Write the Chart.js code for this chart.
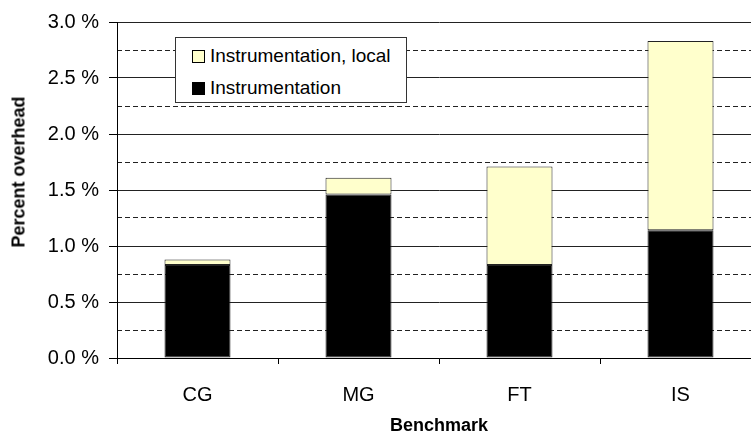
<!DOCTYPE html>
<html>
<head>
<meta charset="utf-8">
<script src="https://cdn.jsdelivr.net/npm/chart.js@4.4.1/dist/chart.umd.min.js"></script>
<style>
  html, body { margin: 0; padding: 0; background: #fff; overflow: hidden; }
  #wrap { position: relative; width: 751px; height: 439px; overflow: hidden; }
  #legend {
    position: absolute; left: 175px; top: 37px; width: 230px; height: 64px;
    border: 1px solid #333; background: #fff;
    font-family: "Liberation Sans", Arial, sans-serif; font-size: 19px; color: #000;
  }
  .item { position: absolute; left: 16px; height: 22px; line-height: 22px; white-space: nowrap; }
  .swatch { display: inline-block; width: 11px; height: 11px; border: 1px solid #000; margin-right: 5px; vertical-align: -1px; }
  #ytitle {
    position: absolute; left: 19px; top: 172px; white-space: nowrap;
    transform: translate(-50%, -50%) rotate(-90deg);
    font-family: "Liberation Sans", Arial, sans-serif; font-size: 18px; font-weight: bold; color: #000;
  }
</style>
</head>
<body>
<div id="wrap">
  <canvas id="chart" width="761" height="439"></canvas>
  <div id="legend"></div>
  <div id="ytitle"></div>
</div>
<script>
const benchmarks = ['CG', 'MG', 'FT', 'IS'];
const instrumentation = [0.83, 1.46, 0.83, 1.14];
const instrumentationLocal = [0.05, 0.15, 0.88, 1.69];
const seriesNames = ['Instrumentation', 'Instrumentation, local'];
const seriesColors = ['#000000', '#FFFFCC'];
const xTitle = 'Benchmark';
const yTitle = 'Percent overhead';

const font = '"Liberation Sans", Arial, sans-serif';

const ctx = document.getElementById('chart').getContext('2d');
const chart = new Chart(ctx, {
  type: 'bar',
  data: {
    labels: benchmarks,
    datasets: [
      {
        label: seriesNames[0],
        data: instrumentation,
        backgroundColor: seriesColors[0],
        borderColor: '#222',
        borderWidth: 1,
        borderSkipped: false
      },
      {
        label: seriesNames[1],
        data: instrumentationLocal,
        backgroundColor: seriesColors[1],
        borderColor: '#222',
        borderWidth: 1,
        borderSkipped: false
      }
    ]
  },
  options: {
    responsive: false,
    animation: false,
    devicePixelRatio: 1,
    layout: { padding: { top: 18, left: 0, right: 0, bottom: 0 } },
    datasets: { bar: { categoryPercentage: 1, barPercentage: 0.41 } },
    plugins: { legend: { display: false }, tooltip: { enabled: false } },
    scales: {
      x: {
        stacked: true,
        offset: true,
        grid: { offset: true, drawOnChartArea: false, tickLength: 6, color: '#000' },
        border: { color: '#000', width: 1 },
        ticks: { color: '#000', font: { family: font, size: 20 }, padding: 19 },
        title: {
          display: true, text: xTitle, color: '#000',
          font: { family: font, size: 18, weight: 'bold' },
          padding: { top: 4, bottom: 2 }
        },
        afterFit: (scale) => { scale.height = 81; }
      },
      y: {
        stacked: true,
        min: 0,
        max: 3,
        grid: { color: '#222', tickLength: 8, tickColor: '#000' },
        border: { color: '#000', width: 1 },
        ticks: {
          stepSize: 0.5, color: '#000', padding: 10,
          font: { family: font, size: 20 },
          callback: (v) => v.toFixed(1) + ' %'
        },
        afterFit: (scale) => { scale.width = 117; }
      },
      // dashed lines halfway between the labelled ticks
      yMinor: {
        position: 'left',
        min: 0,
        max: 3,
        ticks: { display: false, stepSize: 0.25 },
        grid: {
          drawTicks: false,
          color: (c) => (Math.round(c.tick.value * 100) % 50 === 0 ? 'rgba(0,0,0,0)' : '#222')
        },
        border: { display: false, dash: [5, 3] },
        afterFit: (scale) => { scale.width = 0; }
      }
    }
  }
});

document.getElementById('ytitle').textContent = yTitle;

// legend box: top item is the upper stack segment
const legend = document.getElementById('legend');
[1, 0].forEach((idx, row) => {
  const item = document.createElement('div');
  item.className = 'item';
  item.style.top = (7 + row * 32) + 'px';
  const sw = document.createElement('span');
  sw.className = 'swatch';
  sw.style.background = seriesColors[idx];
  item.appendChild(sw);
  item.appendChild(document.createTextNode(seriesNames[idx]));
  legend.appendChild(item);
});
</script>
</body>
</html>
